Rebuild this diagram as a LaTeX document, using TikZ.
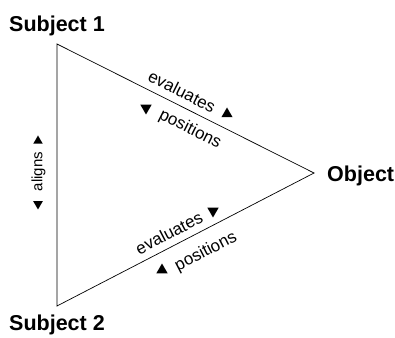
\documentclass[tikz,border=0pt]{standalone}
\usepackage{fontspec}
\setmainfont{Liberation Sans}
\usetikzlibrary{shapes.geometric}
\begin{document}
\begin{tikzpicture}[x=1pt,y=1pt,
  title/.style={font=\fontsize{21.5}{24}\selectfont\bfseries, inner sep=0pt, anchor=base west},
  lab/.style={font=\fontsize{17}{19}\selectfont, inner sep=0pt},
  smalllab/.style={font=\fontsize{15}{17}\selectfont, inner sep=0pt},
  uptri/.style={regular polygon, regular polygon sides=3, fill=black, draw=none, inner sep=0pt, minimum size=13pt},
  downtri/.style={uptri, shape border rotate=180},
  edge/.style={draw=black, line width=0.7pt}
]
\useasboundingbox (0,0) rectangle (395,337);
% vertices
\coordinate (A) at (57,293);
\coordinate (B) at (57,31);
\coordinate (C) at (314,164);
% triangle
\draw[edge, line join=miter] (A) -- (C) -- (B) -- cycle;
% titles
\node[title] (s1) at (9,305) {Subject 1};
\node[title] (s2) at (9,7) {Subject 2};
\node[title] (obj) at (327,155) {Object};
% top edge labels
\node[lab, rotate=-26.65] (ev1) at (182,245.5) {evaluates};
\node[uptri] (t1) at (227,223) {};
\node[downtri] (t2) at (146,229) {};
\node[lab, rotate=-26.65] (po1) at (190,207.5) {positions};
% bottom edge labels
\node[lab, rotate=27.36] (ev2) at (169,104) {evaluates};
\node[downtri] (t3) at (213,126) {};
\node[lab, rotate=27.36] (po2) at (206,85) {positions};
\node[uptri] (t4) at (162,67) {};
% left edge labels
\node[smalllab, rotate=90] (al) at (38.5,165.5) {aligns};
\node[uptri, minimum size=11pt] (t5) at (38,196) {};
\node[downtri, minimum size=11pt] (t6) at (38,133) {};
\end{tikzpicture}
\end{document}
